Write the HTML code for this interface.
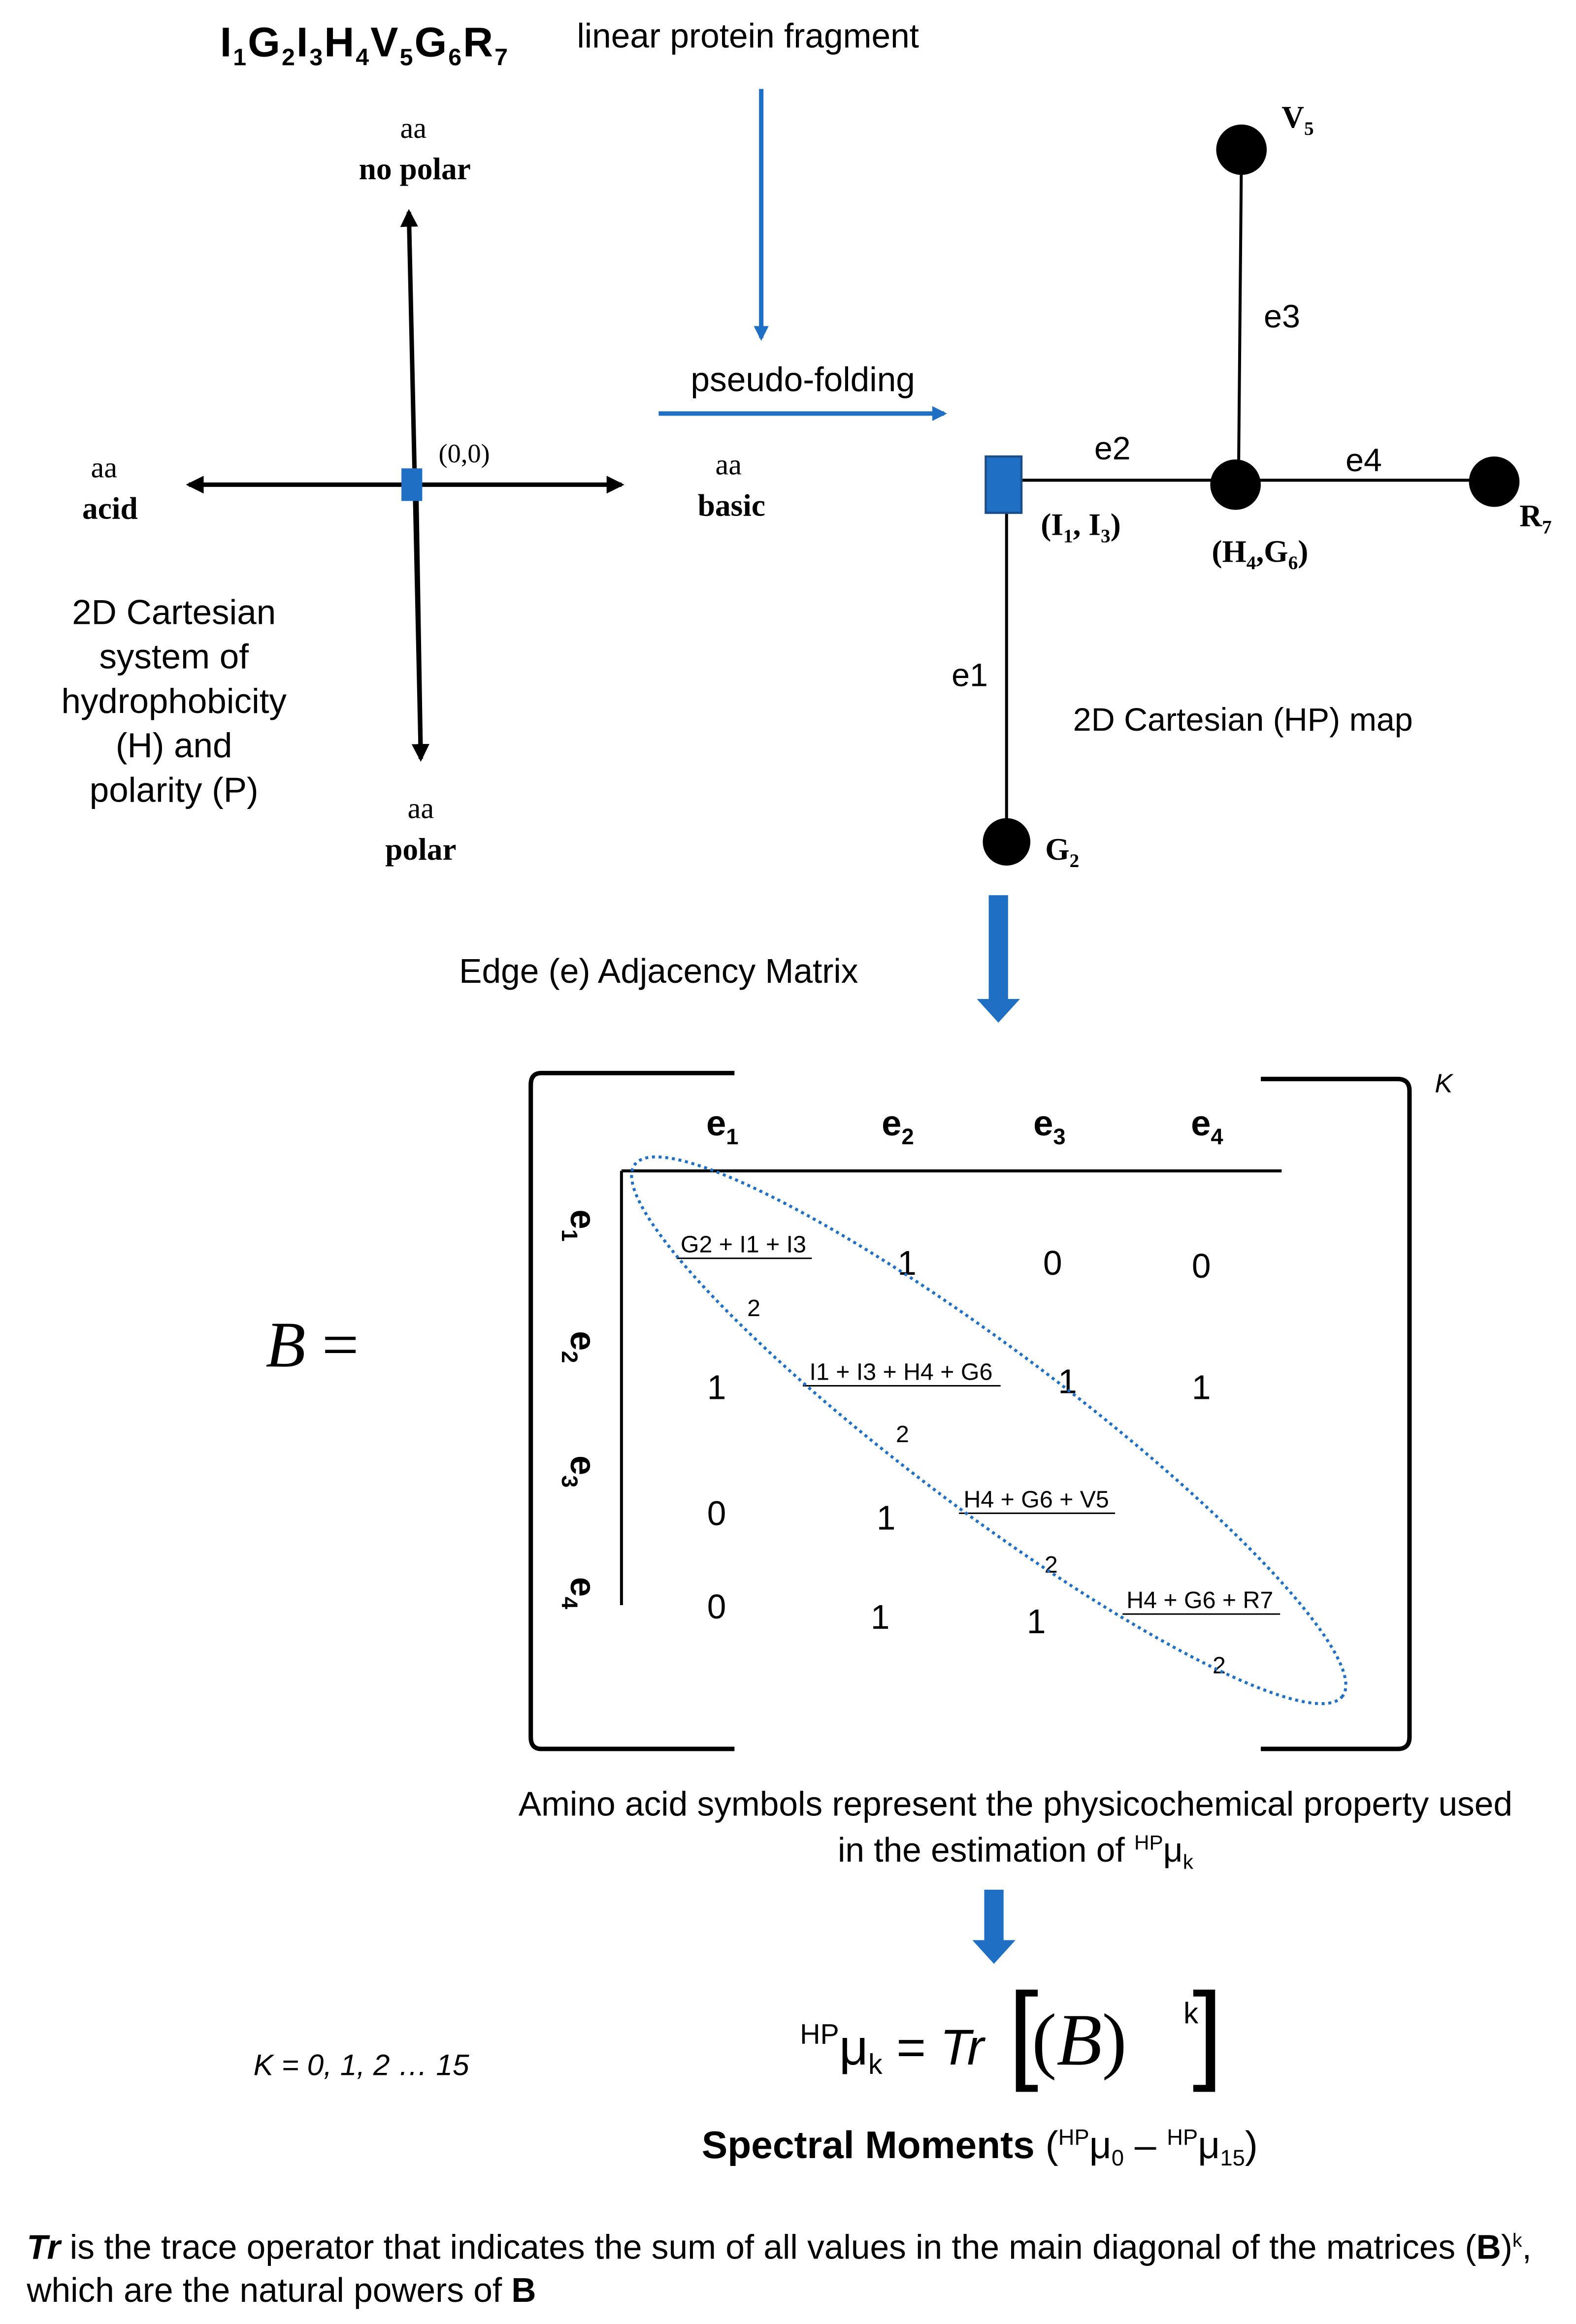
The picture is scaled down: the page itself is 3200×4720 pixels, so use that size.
<!DOCTYPE html>
<html><head><meta charset="utf-8"><style>
html,body{margin:0;padding:0;background:#fff;}
svg{display:block}
.s{font-family:"Liberation Sans",sans-serif}
.r{font-family:"Liberation Serif",serif}
</style></head><body>
<svg width="3200" height="4720" viewBox="0 0 1060 1568" preserveAspectRatio="none" xmlns="http://www.w3.org/2000/svg">
<defs>
<marker id="bh" markerWidth="10" markerHeight="10" refX="8" refY="5" orient="auto" markerUnits="userSpaceOnUse"><path d="M0,0 L10,5 L0,10 z" fill="#1f6fc5"/></marker>
<marker id="kh" markerWidth="12" markerHeight="12" refX="10" refY="6" orient="auto" markerUnits="userSpaceOnUse"><path d="M0,0 L12,6 L0,12 z" fill="#000"/></marker>
</defs>
<rect width="1060" height="1568" fill="#fff"/>
<text x="148" y="38" class="s" font-size="28" font-weight="bold" letter-spacing="1">I<tspan font-size="16" dy="6">1</tspan><tspan dy="-6">G</tspan><tspan font-size="16" dy="6">2</tspan><tspan dy="-6">I</tspan><tspan font-size="16" dy="6">3</tspan><tspan dy="-6">H</tspan><tspan font-size="16" dy="6">4</tspan><tspan dy="-6">V</tspan><tspan font-size="16" dy="6">5</tspan><tspan dy="-6">G</tspan><tspan font-size="16" dy="6">6</tspan><tspan dy="-6">R</tspan><tspan font-size="16" dy="6">7</tspan></text>
<text x="388" y="32" class="s" font-size="23">linear protein fragment</text>
<line x1="512" y1="60" x2="512" y2="228" stroke="#1f6fc5" stroke-width="3" marker-end="url(#bh)"/>
<text x="278" y="93" class="r" font-size="20" text-anchor="middle">aa</text>
<text x="279" y="121" class="r" font-size="21" font-weight="bold" text-anchor="middle">no polar</text>
<line x1="283" y1="510" x2="275" y2="143" stroke="#000" stroke-width="3" marker-end="url(#kh)"/>
<line x1="280" y1="330" x2="283" y2="512" stroke="#000" stroke-width="3" marker-end="url(#kh)"/>
<line x1="270" y1="327" x2="127" y2="327" stroke="#000" stroke-width="3" marker-end="url(#kh)"/>
<line x1="270" y1="327" x2="418" y2="327" stroke="#000" stroke-width="3" marker-end="url(#kh)"/>
<rect x="270" y="316" width="14" height="22" fill="#1f6fc5"/>
<text x="295" y="312" class="r" font-size="18">(0,0)</text>
<text x="70" y="322" class="r" font-size="20" text-anchor="middle">aa</text>
<text x="74" y="350" class="r" font-size="21" font-weight="bold" text-anchor="middle">acid</text>
<text x="490" y="320" class="r" font-size="20" text-anchor="middle">aa</text>
<text x="492" y="348" class="r" font-size="21" font-weight="bold" text-anchor="middle">basic</text>
<text x="540" y="264" class="s" font-size="23" text-anchor="middle">pseudo-folding</text>
<line x1="443" y1="279" x2="635" y2="279" stroke="#1f6fc5" stroke-width="3" marker-end="url(#bh)"/>
<g class="s" font-size="23.5" text-anchor="middle">
<text x="117" y="421">2D Cartesian</text><text x="117" y="451">system of</text><text x="117" y="481">hydrophobicity</text><text x="117" y="511">(H) and</text><text x="117" y="541">polarity (P)</text>
</g>
<text x="283" y="552" class="r" font-size="20" text-anchor="middle">aa</text>
<text x="283" y="580" class="r" font-size="21" font-weight="bold" text-anchor="middle">polar</text>
<line x1="687" y1="324" x2="1005" y2="324" stroke="#000" stroke-width="2"/>
<line x1="835" y1="102" x2="833" y2="325" stroke="#000" stroke-width="2"/>
<line x1="677" y1="346" x2="677" y2="568" stroke="#000" stroke-width="2"/>
<rect x="663" y="308" width="24" height="38" fill="#1f6fc5" stroke="#1a4f8a" stroke-width="1.5"/>
<circle cx="835" cy="101" r="17" fill="#000"/>
<circle cx="831" cy="327" r="17" fill="#000"/>
<circle cx="1005" cy="325" r="17" fill="#000"/>
<circle cx="677" cy="568" r="16" fill="#000"/>
<text x="862" y="86" class="r" font-size="21" font-weight="bold">V<tspan font-size="13" dy="5">5</tspan></text>
<text x="1022" y="355" class="r" font-size="21" font-weight="bold">R<tspan font-size="13" dy="5">7</tspan></text>
<text x="703" y="580" class="r" font-size="21" font-weight="bold">G<tspan font-size="13" dy="5">2</tspan></text>
<text x="700" y="361" class="r" font-size="21" font-weight="bold">(I<tspan font-size="13" dy="5">1</tspan><tspan dy="-5">, I</tspan><tspan font-size="13" dy="5">3</tspan><tspan dy="-5">)</tspan></text>
<text x="815" y="379" class="r" font-size="21" font-weight="bold">(H<tspan font-size="13" dy="5">4</tspan><tspan dy="-5">,G</tspan><tspan font-size="13" dy="5">6</tspan><tspan dy="-5">)</tspan></text>
<g class="s" font-size="22">
<text x="850" y="221">e3</text><text x="736" y="310">e2</text><text x="905" y="318">e4</text><text x="640" y="463">e1</text>
<text x="836" y="493" text-anchor="middle">2D Cartesian (HP) map</text>
<text x="443" y="663" text-anchor="middle" font-size="23">Edge (e) Adjacency Matrix</text>
</g>
<rect x="665" y="604" width="13" height="72" fill="#1f6fc5"/>
<path d="M657,674 L686,674 L671.5,690 z" fill="#1f6fc5"/>
<path d="M494,724 L364,724 Q357,724 357,732 L357,1172 Q357,1180 364,1180 L494,1180" fill="none" stroke="#000" stroke-width="3"/>
<path d="M848,728 L940,728 Q948,728 948,736 L948,1172 Q948,1180 940,1180 L848,1180" fill="none" stroke="#000" stroke-width="3"/>
<text x="965" y="737" class="s" font-size="18" font-style="italic">K</text>
<g class="s" font-size="24" font-weight="bold">
<text x="475" y="766">e<tspan font-size="15" dy="6">1</tspan></text>
<text x="593" y="766">e<tspan font-size="15" dy="6">2</tspan></text>
<text x="695" y="766">e<tspan font-size="15" dy="6">3</tspan></text>
<text x="801" y="766">e<tspan font-size="15" dy="6">4</tspan></text>
<text transform="translate(384,816) rotate(90)">e<tspan font-size="15" dy="6">1</tspan></text>
<text transform="translate(384,898) rotate(90)">e<tspan font-size="15" dy="6">2</tspan></text>
<text transform="translate(384,982) rotate(90)">e<tspan font-size="15" dy="6">3</tspan></text>
<text transform="translate(384,1064) rotate(90)">e<tspan font-size="15" dy="6">4</tspan></text>
</g>
<line x1="418" y1="790" x2="862" y2="790" stroke="#000" stroke-width="2"/>
<line x1="418" y1="790" x2="418" y2="1083" stroke="#000" stroke-width="2"/>
<text x="210" y="922" class="r" font-size="44" font-style="italic" text-anchor="middle">B <tspan font-style="normal">=</tspan></text>
<g class="s" font-size="23" text-anchor="middle">
<text x="610" y="860">1</text><text x="708" y="860">0</text><text x="808" y="862">0</text>
<text x="482" y="944">1</text><text x="718" y="940">1</text><text x="808" y="944">1</text>
<text x="482" y="1029">0</text><text x="596" y="1032">1</text>
<text x="482" y="1092">0</text><text x="592" y="1099">1</text><text x="697" y="1102">1</text>
</g>
<g class="s" font-size="16" text-anchor="middle">
<text x="500" y="845">G2 + I1 + I3</text><line x1="455" y1="849" x2="546" y2="849" stroke="#000"/>
<text x="507" y="888">2</text>
<text x="606" y="931">I1 + I3 + H4 + G6</text><line x1="540" y1="935" x2="673" y2="935" stroke="#000"/>
<text x="607" y="973">2</text>
<text x="697" y="1017">H4 + G6 + V5</text><line x1="645" y1="1021" x2="750" y2="1021" stroke="#000"/>
<text x="707" y="1061">2</text>
<text x="807" y="1085">H4 + G6 + R7</text><line x1="755" y1="1089" x2="861" y2="1089" stroke="#000"/>
<text x="820" y="1129">2</text>
</g>
<ellipse cx="665" cy="965" rx="298" ry="54" transform="rotate(37 665 965)" fill="none" stroke="#1f6fc5" stroke-width="2" stroke-dasharray="2,2.5"/>
<g class="s" font-size="23" text-anchor="middle">
<text x="683" y="1225">Amino acid symbols represent the physicochemical property used</text>
<text x="683" y="1256">in the  estimation of <tspan font-size="14" dy="-8">HP</tspan><tspan dy="8">μ</tspan><tspan font-size="14" dy="5">k</tspan></text>
</g>
<rect x="662" y="1275" width="13" height="36" fill="#1f6fc5"/>
<path d="M654,1309 L683,1309 L668.5,1325 z" fill="#1f6fc5"/>
<text x="538" y="1393" class="s" font-size="34"><tspan font-size="19" dy="-14">HP</tspan><tspan dy="14">μ</tspan><tspan font-size="19" dy="6">k</tspan><tspan dy="-6"> = </tspan><tspan font-style="italic">Tr</tspan></text>
<text x="678" y="1396" class="s" font-size="74" font-weight="300">[</text>
<text x="694" y="1393" class="r" font-size="50" font-style="italic"><tspan font-style="normal">(</tspan>B<tspan font-style="normal">)</tspan></text>
<text x="796" y="1365" class="s" font-size="20">k</text>
<text x="802" y="1396" class="s" font-size="74" font-weight="300">]</text>
<text x="243" y="1400" class="s" font-size="20" font-style="italic" text-anchor="middle">K = 0, 1, 2 … 15</text>
<text x="472" y="1456" class="s" font-size="26" font-weight="bold">Spectral Moments <tspan font-weight="normal">(<tspan font-size="15" dy="-9">HP</tspan><tspan dy="9">μ</tspan><tspan font-size="15" dy="5">0</tspan><tspan dy="-5"> – </tspan><tspan font-size="15" dy="-9">HP</tspan><tspan dy="9">μ</tspan><tspan font-size="15" dy="5">15</tspan><tspan dy="-5">)</tspan></tspan></text>
<text x="18" y="1524" class="s" font-size="23"><tspan font-weight="bold" font-style="italic">Tr</tspan> is the trace operator that indicates the sum of all values in the main diagonal of the matrices (<tspan font-weight="bold">B</tspan>)<tspan font-size="13" dy="-8">k</tspan><tspan dy="8">,</tspan></text>
<text x="18" y="1553" class="s" font-size="23">which are the natural powers of <tspan font-weight="bold">B</tspan></text>
</svg>
</body></html>
